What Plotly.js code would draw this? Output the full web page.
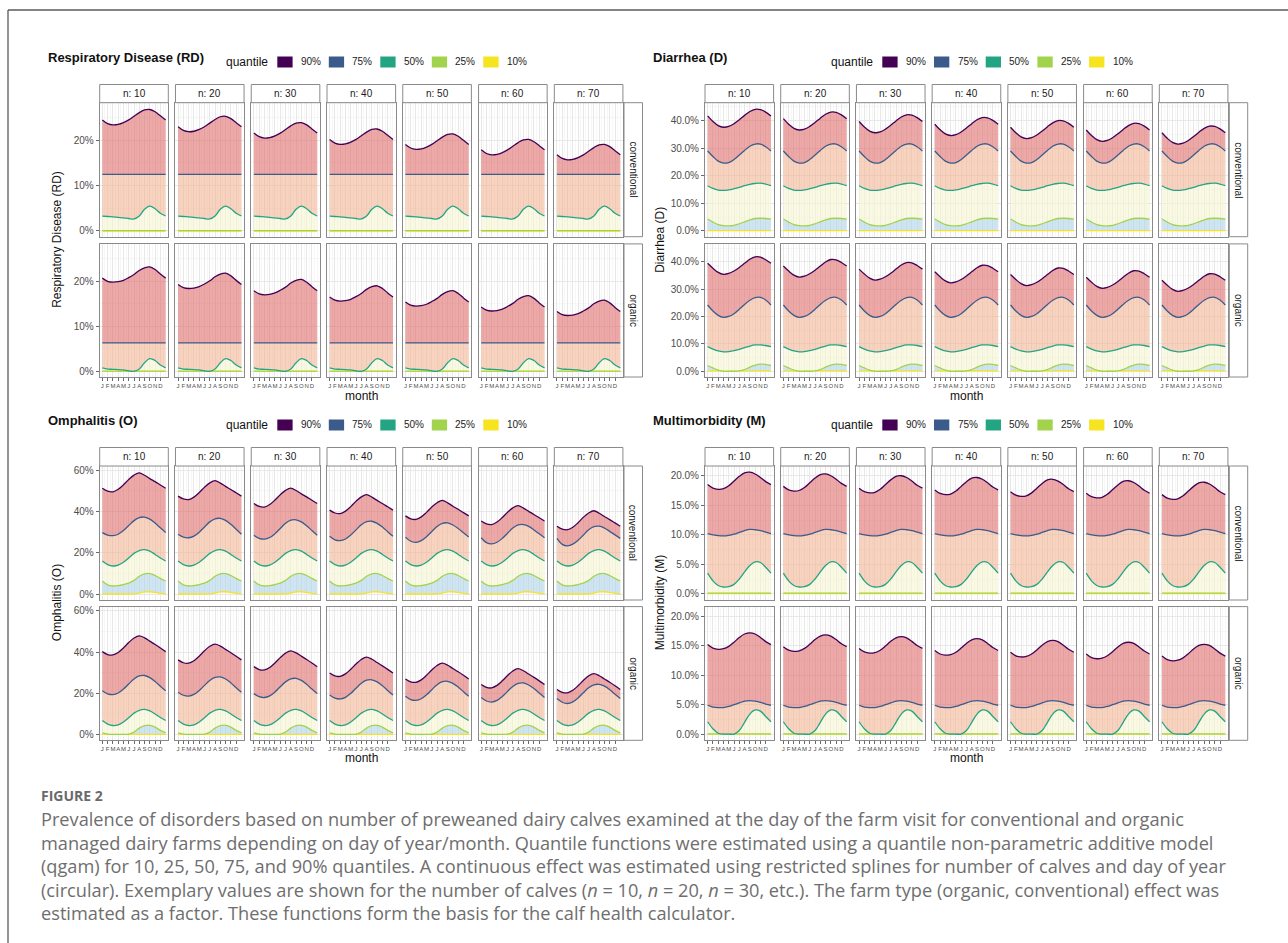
<!DOCTYPE html>
<html><head><meta charset="utf-8">
<script src="https://cdn.plot.ly/plotly-3.0.1.min.js"></script>
<style>html,body{margin:0;padding:0;background:#fff;}#chart{width:1288px;height:943px;}</style>
</head><body><div id="chart"></div>
<script>
// ================= DATA =================
// x positions: month index (0 = 1 Jan ... 12 = 31 Dec)
const monthX = [0,1,2,3,4,5,6,7,8,9,10,11,12];
const monthTickVals = [0,1,2,3,4,5,6,7,8,9,10,11];
const monthTickText = ['J','F','M','A','M','J','J','A','S','O','N','D'];
const nLabels = ['n: 10','n: 20','n: 30','n: 40','n: 50','n: 60','n: 70'];
const farmTypes = ['conventional','organic'];
const quantileNames = ['90%','75%','50%','25%','10%'];
const panelTitles = ['Respiratory Disease (RD)','Diarrhea (D)','Omphalitis (O)','Multimorbidity (M)'];
const yAxisTitles = ['Respiratory Disease (RD)','Diarrhea (D)','Omphalitis (O)','Multimorbidity (M)'];

// y ticks
const rd_yTicks = [0,10,20];          const rd_yTickText = ['0%','10%','20%'];
const d_yTicks  = [0,10,20,30,40];    const d_yTickText  = ['0.0%','10.0%','20.0%','30.0%','40.0%'];
const o_yTicks  = [0,20,40,60];       const o_yTickText  = ['0%','20%','40%','60%'];
const m_yTicks  = [0,5,10,15,20];     const m_yTickText  = ['0.0%','5.0%','10.0%','15.0%','20.0%'];

// ---- Respiratory disease (%), conventional ----
const rd_conv_q10 = [0,0,0,0,0,0,0,0,0,0,0,0,0];
const rd_conv_q25 = [0.08,0.08,0.08,0.08,0.08,0.08,0.08,0.08,0.08,0.08,0.08,0.08,0.08];
const rd_conv_q50 = [3.3,3.2,3.1,3.0,2.9,2.75,2.65,3.3,4.8,5.5,4.9,3.9,3.3];
const rd_conv_q75 = [12.5,12.5,12.5,12.5,12.5,12.5,12.5,12.5,12.5,12.5,12.5,12.5,12.5];
const rd_conv_q90 = [ // one row per n
  [24.5,23.7,23.4,23.5,23.9,24.5,25.3,26.1,26.7,26.8,26.3,25.4,24.5],
  [23.0,22.2,21.9,22.0,22.4,23.0,23.8,24.6,25.2,25.3,24.8,23.9,23.0],
  [21.6,20.8,20.5,20.6,21.0,21.6,22.4,23.2,23.8,23.9,23.4,22.5,21.6],
  [20.2,19.4,19.1,19.2,19.6,20.2,21.0,21.8,22.4,22.5,22.0,21.1,20.2],
  [19.1,18.3,18.0,18.1,18.5,19.1,19.9,20.7,21.3,21.4,20.9,20.0,19.1],
  [17.9,17.1,16.8,16.9,17.3,17.9,18.7,19.5,20.1,20.2,19.7,18.8,17.9],
  [16.8,16.0,15.7,15.8,16.2,16.8,17.6,18.4,19.0,19.1,18.6,17.7,16.8]];
// ---- Respiratory disease, organic ----
const rd_org_q10 = [0,0,0,0,0,0,0,0,0,0,0,0,0];
const rd_org_q25 = [0.05,0.05,0.05,0.05,0.05,0.05,0.05,0.05,0.05,0.05,0.05,0.05,0.05];
const rd_org_q50 = [0.75,0.5,0.45,0.4,0.3,0.1,0.0,0.5,1.9,2.8,2.4,1.4,0.75];
const rd_org_q75 = [6.3,6.3,6.3,6.3,6.3,6.3,6.3,6.3,6.3,6.3,6.3,6.3,6.3];
const rd_org_q90 = [
  [20.7,20.0,19.8,19.9,20.2,20.8,21.5,22.4,23.0,23.2,22.6,21.6,20.7],
  [19.3,18.6,18.4,18.5,18.8,19.4,20.1,21.0,21.6,21.8,21.2,20.2,19.3],
  [17.9,17.2,17.0,17.1,17.4,18.0,18.7,19.6,20.2,20.4,19.8,18.8,17.9],
  [16.5,15.8,15.6,15.7,16.0,16.6,17.3,18.2,18.8,19.0,18.4,17.4,16.5],
  [15.4,14.7,14.5,14.6,14.9,15.5,16.2,17.1,17.7,17.9,17.3,16.3,15.4],
  [14.3,13.6,13.4,13.5,13.8,14.4,15.1,16.0,16.6,16.8,16.2,15.2,14.3],
  [13.3,12.6,12.4,12.5,12.8,13.4,14.1,15.0,15.6,15.8,15.2,14.2,13.3]];

// ---- Diarrhea, conventional ----
const d_conv_q10 = [0.1,0.1,0.1,0.1,0.1,0.1,0.1,0.1,0.1,0.1,0.1,0.1,0.1];
const d_conv_q25 = [4.3,3.2,2.3,1.9,1.8,2.0,2.6,3.3,4.0,4.5,4.6,4.5,4.3];
const d_conv_q50 = [16.4,15.4,14.8,14.7,14.9,15.3,15.8,16.4,16.9,17.2,17.3,17.0,16.4];
const d_conv_q75 = [29.0,27.0,25.3,24.6,24.8,25.9,27.5,29.2,30.7,31.5,31.5,30.5,29.0];
const d_conv_q90 = [
  [41.7,39.7,38.2,37.6,37.9,38.9,40.3,41.9,43.3,44.1,44.0,43.1,41.7],
  [40.7,38.7,37.2,36.6,36.9,37.9,39.3,40.9,42.3,43.1,43.0,42.1,40.7],
  [39.7,37.7,36.2,35.6,35.9,36.9,38.3,39.9,41.3,42.1,42.0,41.1,39.7],
  [38.7,36.7,35.2,34.6,34.9,35.9,37.3,38.9,40.3,41.1,41.0,40.1,38.7],
  [37.6,35.6,34.1,33.5,33.8,34.8,36.2,37.8,39.2,40.0,39.9,39.0,37.6],
  [36.6,34.6,33.1,32.5,32.8,33.8,35.2,36.8,38.2,39.0,38.9,38.0,36.6],
  [35.6,33.6,32.1,31.5,31.8,32.8,34.2,35.8,37.2,38.0,37.9,37.0,35.6]];
// ---- Diarrhea, organic ----
const d_org_q10 = [0.1,0.1,0.1,0.1,0.1,0.1,0.1,0.1,0.1,0.1,0.1,0.1,0.1];
const d_org_q25 = [2.1,1.2,0.4,0.0,0.0,0.0,0.1,0.6,1.5,2.2,2.6,2.5,2.1];
const d_org_q50 = [9.0,8.1,7.4,7.1,7.2,7.5,8.0,8.6,9.2,9.6,9.6,9.4,9.0];
const d_org_q75 = [24.2,22.0,20.4,19.7,20.0,21.0,22.6,24.4,25.9,26.9,27.0,26.0,24.2];
const d_org_q90 = [
  [39.4,37.6,36.1,35.4,35.7,36.6,37.9,39.4,40.9,41.8,41.7,40.7,39.4],
  [38.4,36.6,35.1,34.4,34.7,35.6,36.9,38.4,39.9,40.8,40.7,39.7,38.4],
  [37.3,35.5,34.0,33.3,33.6,34.5,35.8,37.3,38.8,39.7,39.6,38.6,37.3],
  [36.3,34.5,33.0,32.3,32.6,33.5,34.8,36.3,37.8,38.7,38.6,37.6,36.3],
  [35.3,33.5,32.0,31.3,31.6,32.5,33.8,35.3,36.8,37.7,37.6,36.6,35.3],
  [34.3,32.5,31.0,30.3,30.6,31.5,32.8,34.3,35.8,36.7,36.6,35.6,34.3],
  [33.2,31.4,29.9,29.2,29.5,30.4,31.7,33.2,34.7,35.6,35.5,34.5,33.2]];

// ---- Omphalitis, conventional ----
const o_conv_q10 = [0,0,0,0,0,0,0.05,0.5,1.0,1.1,0.8,0.3,0];
const o_conv_q25 = [6.3,4.4,3.9,4.1,4.6,5.3,6.6,8.6,9.8,9.9,9.0,7.6,6.3];
const o_conv_q50 = [16.0,14.3,13.6,14.0,15.4,17.5,19.7,21.1,21.5,20.8,19.2,17.5,16.0];
const o_conv_q75 = [
  [29.8,28.6,28.3,29.0,30.8,33.2,35.6,37.1,37.3,36.3,34.4,32.1,29.8],
  [29.0,27.6,27.3,28.1,30.0,32.5,35.0,36.5,36.7,35.7,33.8,31.4,29.0],
  [28.5,27.0,26.6,27.4,29.3,31.8,34.3,35.8,36.0,35.0,33.1,30.8,28.5],
  [28.0,26.3,25.9,26.7,28.6,31.1,33.6,35.1,35.3,34.3,32.5,30.2,28.0],
  [27.6,25.6,25.1,25.9,27.8,30.3,32.8,34.3,34.5,33.5,31.8,29.7,27.6],
  [27.3,24.9,24.3,25.1,27.0,29.5,32.0,33.5,33.7,32.8,31.1,29.2,27.3],
  [27.0,24.1,23.4,24.2,26.1,28.6,31.2,32.7,32.9,32.0,30.4,28.7,27.0]];
const o_conv_q90 = [
  [51.3,49.9,49.6,50.8,53.0,55.6,57.7,58.8,57.6,56.0,54.5,52.9,51.3],
  [47.5,46.1,45.8,47.0,49.2,51.8,53.9,55.0,53.8,52.2,50.7,49.1,47.5],
  [43.9,42.5,42.2,43.4,45.6,48.2,50.3,51.4,50.2,48.6,47.1,45.5,43.9],
  [40.7,39.3,39.0,40.2,42.4,45.0,47.1,48.2,47.0,45.4,43.9,42.3,40.7],
  [37.9,36.5,36.2,37.4,39.6,42.2,44.3,45.4,44.2,42.6,41.1,39.5,37.9],
  [35.4,34.0,33.7,34.9,37.1,39.7,41.8,42.9,41.7,40.1,38.6,37.0,35.4],
  [32.9,31.5,31.2,32.4,34.6,37.2,39.3,40.4,39.2,37.6,36.1,34.5,32.9]];
// ---- Omphalitis, organic ----
const o_org_q10 = [0,0,0,0,0,0,0,0,0,0,0,0,0];
const o_org_q25 = [0.7,0.1,0,0,0,0.1,1.1,3.0,4.2,4.4,3.5,1.9,0.7];
const o_org_q50 = [6.7,5.0,4.3,4.6,6.0,8.1,10.3,11.7,12.1,11.4,9.9,8.2,6.7];
const o_org_q75 = [
  [21.2,19.7,19.3,20.1,22.0,24.5,26.9,28.4,28.6,27.6,25.7,23.4,21.2],
  [20.5,19.0,18.6,19.4,21.3,23.8,26.2,27.7,27.9,26.9,25.0,22.7,20.5],
  [19.8,18.3,17.9,18.7,20.6,23.1,25.5,27.0,27.2,26.2,24.3,22.0,19.8],
  [19.1,17.6,17.2,18.0,19.9,22.4,24.8,26.3,26.5,25.5,23.6,21.3,19.1],
  [18.5,16.9,16.5,17.3,19.2,21.7,24.1,25.6,25.8,24.8,23.0,20.7,18.5],
  [17.9,16.2,15.7,16.5,18.4,20.9,23.3,24.8,25.0,24.0,22.3,20.1,17.9],
  [17.4,15.6,15.0,15.8,17.7,20.2,22.6,24.1,24.3,23.4,21.7,19.5,17.4]];
const o_org_q90 = [
  [40.2,38.8,38.6,39.8,42.0,44.6,46.8,47.9,46.9,45.3,43.7,42.0,40.2],
  [36.2,34.8,34.6,35.8,38.0,40.6,42.8,43.9,42.9,41.3,39.7,38.0,36.2],
  [32.9,31.5,31.3,32.5,34.7,37.3,39.5,40.6,39.6,38.0,36.4,34.7,32.9],
  [29.8,28.4,28.2,29.4,31.6,34.2,36.4,37.5,36.5,34.9,33.3,31.6,29.8],
  [26.9,25.5,25.3,26.5,28.7,31.3,33.5,34.6,33.6,32.0,30.4,28.7,26.9],
  [24.2,22.8,22.6,23.8,26.0,28.6,30.8,31.9,30.9,29.3,27.7,26.0,24.2],
  [21.8,20.4,20.2,21.4,23.6,26.2,28.4,29.5,28.5,26.9,25.3,23.6,21.8]];

// ---- Multimorbidity, conventional ----
const m_conv_q10 = [0.05,0.05,0.05,0.05,0.05,0.05,0.05,0.05,0.05,0.05,0.05,0.05,0.05];
const m_conv_q25 = [0.1,0.1,0.1,0.1,0.1,0.1,0.1,0.1,0.1,0.1,0.1,0.1,0.1];
const m_conv_q50 = [3.5,2.2,1.4,1.15,1.2,1.6,2.5,3.7,4.8,5.4,5.3,4.5,3.5];
const m_conv_q75 = [10.2,10.0,9.85,9.8,9.9,10.1,10.4,10.7,10.9,10.85,10.7,10.45,10.2];
const m_conv_q90 = [
  [18.5,17.9,17.7,17.8,18.3,19.1,19.9,20.5,20.6,20.3,19.7,19.0,18.5],
  [18.2,17.6,17.4,17.5,18.0,18.8,19.6,20.2,20.3,20.0,19.4,18.7,18.2],
  [17.9,17.3,17.1,17.2,17.7,18.5,19.3,19.9,20.0,19.7,19.1,18.4,17.9],
  [17.6,17.0,16.8,16.9,17.4,18.2,19.0,19.6,19.7,19.4,18.8,18.1,17.6],
  [17.3,16.7,16.5,16.6,17.1,17.9,18.7,19.3,19.4,19.1,18.5,17.8,17.3],
  [17.05,16.45,16.25,16.35,16.85,17.65,18.45,19.05,19.15,18.85,18.25,17.55,17.05],
  [16.8,16.2,16.0,16.1,16.6,17.4,18.2,18.8,18.9,18.6,18.0,17.3,16.8]];
// ---- Multimorbidity, organic ----
const m_org_q10 = [0,0,0,0,0,0,0,0,0,0,0,0,0];
const m_org_q25 = [0.05,0.05,0.05,0.05,0.05,0.05,0.05,0.05,0.05,0.05,0.05,0.05,0.05];
const m_org_q50 = [2.1,0.9,0.15,0,0,0,0.6,2.0,3.4,4.1,3.9,3.0,2.1];
const m_org_q75 = [4.9,4.6,4.5,4.5,4.7,5.0,5.3,5.6,5.7,5.6,5.4,5.1,4.9];
const m_org_q90 = [
  [15.2,14.6,14.4,14.5,14.9,15.6,16.4,17.0,17.2,17.0,16.4,15.7,15.2],
  [14.85,14.25,14.05,14.15,14.55,15.25,16.05,16.65,16.85,16.65,16.05,15.35,14.85],
  [14.55,13.95,13.75,13.85,14.25,14.95,15.75,16.35,16.55,16.35,15.75,15.05,14.55],
  [14.2,13.6,13.4,13.5,13.9,14.6,15.4,16.0,16.2,16.0,15.4,14.7,14.2],
  [13.9,13.3,13.1,13.2,13.6,14.3,15.1,15.7,15.9,15.7,15.1,14.4,13.9],
  [13.6,13.0,12.8,12.9,13.3,14.0,14.8,15.4,15.6,15.4,14.8,14.1,13.6],
  [13.25,12.65,12.45,12.55,12.95,13.65,14.45,15.05,15.25,15.05,14.45,13.75,13.25]];

const captionLines = [
  'Prevalence of disorders based on number of preweaned dairy calves examined at the day of the farm visit for conventional and organic',
  'managed dairy farms depending on day of year/month. Quantile functions were estimated using a quantile non-parametric additive model',
  '(qgam) for 10, 25, 50, 75, and 90% quantiles. A continuous effect was estimated using restricted splines for number of calves and day of year',
  '(circular). Exemplary values are shown for the number of calves (<i>n</i> = 10, <i>n</i> = 20, <i>n</i> = 30, etc.). The farm type (organic, conventional) effect was',
  'estimated as a factor. These functions form the basis for the calf health calculator.'];

// ================= BUILD =================
const disorders = [
  {conv:[rd_conv_q10,rd_conv_q25,rd_conv_q50,rd_conv_q75,rd_conv_q90], org:[rd_org_q10,rd_org_q25,rd_org_q50,rd_org_q75,rd_org_q90], yt:rd_yTicks, ytt:rd_yTickText},
  {conv:[d_conv_q10,d_conv_q25,d_conv_q50,d_conv_q75,d_conv_q90], org:[d_org_q10,d_org_q25,d_org_q50,d_org_q75,d_org_q90], yt:d_yTicks, ytt:d_yTickText},
  {conv:[o_conv_q10,o_conv_q25,o_conv_q50,o_conv_q75,o_conv_q90], org:[o_org_q10,o_org_q25,o_org_q50,o_org_q75,o_org_q90], yt:o_yTicks, ytt:o_yTickText},
  {conv:[m_conv_q10,m_conv_q25,m_conv_q50,m_conv_q75,m_conv_q90], org:[m_org_q10,m_org_q25,m_org_q50,m_org_q75,m_org_q90], yt:m_yTicks, ytt:m_yTickText}
];

const W = 1288, H = 943;
const px = v => v / W, py = v => 1 - v / H;
const FONT = 'Liberation Sans, Arial, Helvetica, sans-serif';
// colours: order q10, q25, q50, q75, q90
const lineColors = ['#F5E41F','#A2D34C','#23A483','#3B5B8B','#440154'];
const fillColors = ['rgba(0,0,0,0)','rgba(170,208,232,0.55)','rgba(246,246,206,0.55)','rgba(243,176,140,0.55)','rgba(221,98,96,0.55)'];

const geo = [
  {x0:99.7, pitch:75.77, w:68.6, rows:[[102.7,236.7],[243.9,377]], stripTop:84.5, rstrip:[624,642.5], titleX:46, titleY:57, legY:62, qX:224, sqX:277.3, sqStep:51.5, yTitleX:57, monthX:361, monthY:396, yr:[-1.26,28.3]},
  {x0:705, pitch:75.72, w:68.6, rows:[[102.7,236.7],[243.9,377]], stripTop:84.5, rstrip:[1229.3,1247.7], titleX:650.7, titleY:57, legY:62, qX:828.7, sqX:882.3, sqStep:51.7, yTitleX:660, monthX:966, monthY:396, yr:[-2.1,46.5]},
  {x0:99.7, pitch:75.77, w:68.6, rows:[[466,600],[606.6,740.3]], stripTop:447.5, rstrip:[624,642.5], titleX:46, titleY:420, legY:425, qX:224, sqX:277.3, sqStep:51.5, yTitleX:57, monthX:361, monthY:758, yr:[-2.9,62.1]},
  {x0:705, pitch:75.72, w:68.6, rows:[[466,600],[606.6,740.3]], stripTop:447.5, rstrip:[1229.3,1247.7], titleX:650.7, titleY:420, legY:425, qX:828.7, sqX:882.3, sqStep:51.7, yTitleX:660, monthX:966, monthY:758, yr:[-1.05,21.65]}
];

const minorX = [-0.5,0.5,1.5,2.5,3.5,4.5,5.5,6.5,7.5,8.5,9.5,10.5,11.5,12,12.5];

const traces = [], shapes = [], annotations = [];
const layout = {
  width: W, height: H, margin:{l:0,r:0,t:0,b:0}, paper_bgcolor:'#fff', plot_bgcolor:'#fff',
  showlegend:false, font:{family:FONT}
};

disorders.forEach((d, p) => {
  const g = geo[p];
  const ymajor = d.yt;
  const ystep = ymajor[1] - ymajor[0];
  const yminor = ymajor.map(v => v + ystep/2).concat([ymajor[0] - ystep/2]);
  [d.conv, d.org].forEach((qs, r) => {
    const [rowTop, rowBot] = g.rows[r];
    nLabels.forEach((nl, c) => {
      const i = p*14 + r*7 + c + 1;
      const sfx = i > 1 ? String(i) : '';
      const xa = 'x' + sfx, ya = 'y' + sfx;
      const x0 = g.x0 + c*g.pitch, x1 = x0 + g.w;
      qs.forEach((arr, k) => {
        const ys = Array.isArray(arr[0]) ? arr[c] : arr;
        traces.push({
          type:'scatter', mode:'lines', x: monthX, y: ys, xaxis: xa, yaxis: ya,
          line:{color: lineColors[k], width:1.3, shape:'spline', smoothing:1},
          fill: k === 0 ? 'none' : 'tonexty', fillcolor: fillColors[k],
          hoverinfo:'skip', showlegend:false
        });
      });
      layout['xaxis' + sfx] = {
        domain:[px(x0), px(x1)], anchor: ya, range:[-0.5, 12.5], fixedrange:true,
        tickmode:'array', tickvals: monthTickVals, ticktext: monthTickText, tickangle:0,
        showticklabels: r === 1, ticks: r === 1 ? 'outside' : '', ticklen:2.5, tickwidth:0.8, tickcolor:'#444',
        tickfont:{size:6, color:'#4d4d4d', family:FONT},
        showgrid:true, gridcolor:'#E6E6E6', gridwidth:0.9,
        minor:{tickmode:'array', tickvals:minorX, showgrid:true, gridcolor:'#F1F1F1', gridwidth:0.6, ticks:''},
        showline:true, mirror:true, linecolor:'#8a8a8a', linewidth:1, zeroline:false
      };
      layout['yaxis' + sfx] = {
        domain:[py(rowBot), py(rowTop)], anchor: xa, range: g.yr, fixedrange:true,
        tickmode:'array', tickvals: ymajor, ticktext: d.ytt,
        showticklabels: c === 0, ticks: c === 0 ? 'outside' : '', ticklen:3, tickwidth:0.8, tickcolor:'#444',
        tickfont:{size:10, color:'#4d4d4d', family:FONT},
        showgrid:true, gridcolor:'#E6E6E6', gridwidth:0.9,
        minor:{tickmode:'array', tickvals:yminor, showgrid:true, gridcolor:'#F1F1F1', gridwidth:0.6, ticks:''},
        showline:true, mirror:true, linecolor:'#8a8a8a', linewidth:1, zeroline:false
      };
      if (r === 0) {
        shapes.push({type:'rect', xref:'paper', yref:'paper', x0:px(x0), x1:px(x1), y0:py(rowTop), y1:py(g.stripTop),
          line:{color:'#8a8a8a', width:1}, fillcolor:'#ffffff', layer:'above'});
        annotations.push({xref:'paper', yref:'paper', x:px((x0+x1)/2), y:py((g.stripTop+rowTop)/2), text:nl,
          showarrow:false, xanchor:'center', yanchor:'middle', font:{size:10, color:'#1a1a1a', family:FONT}});
      }
    });
    shapes.push({type:'rect', xref:'paper', yref:'paper', x0:px(g.rstrip[0]), x1:px(g.rstrip[1]), y0:py(rowBot), y1:py(rowTop),
      line:{color:'#8a8a8a', width:1}, fillcolor:'#ffffff', layer:'above'});
    annotations.push({xref:'paper', yref:'paper', x:px((g.rstrip[0]+g.rstrip[1])/2), y:py((rowTop+rowBot)/2), text:farmTypes[r],
      textangle:90, showarrow:false, xanchor:'center', yanchor:'middle', font:{size:10, color:'#1a1a1a', family:FONT}});
  });
  annotations.push({xref:'paper', yref:'paper', x:px(g.titleX), y:py(g.titleY), text:'<b>'+panelTitles[p]+'</b>',
    showarrow:false, xanchor:'left', yanchor:'middle', font:{size:13, color:'#111', family:FONT}});
  annotations.push({xref:'paper', yref:'paper', x:px(g.qX), y:py(g.legY), text:'quantile',
    showarrow:false, xanchor:'left', yanchor:'middle', font:{size:12, color:'#111', family:FONT}});
  quantileNames.forEach((qn, k) => {
    const sx = g.sqX + k*g.sqStep;
    shapes.push({type:'rect', xref:'paper', yref:'paper', x0:px(sx), x1:px(sx+15.3), y0:py(g.legY+5.5), y1:py(g.legY-5.5),
      line:{width:0}, fillcolor: lineColors[4-k]});
    annotations.push({xref:'paper', yref:'paper', x:px(sx+21.5), y:py(g.legY), text:qn,
      showarrow:false, xanchor:'left', yanchor:'middle', font:{size:10, color:'#222', family:FONT}});
  });
  const rows = g.rows;
  annotations.push({xref:'paper', yref:'paper', x:px(g.yTitleX), y:py((rows[0][0]+rows[1][1])/2), text:yAxisTitles[p],
    textangle:-90, showarrow:false, xanchor:'center', yanchor:'middle', font:{size:12, color:'#111', family:FONT}});
  annotations.push({xref:'paper', yref:'paper', x:px(g.monthX), y:py(g.monthY), text:'month',
    showarrow:false, xanchor:'center', yanchor:'middle', font:{size:12, color:'#111', family:FONT}});
});

// page frame
shapes.push({type:'line', xref:'paper', yref:'paper', x0:px(8), x1:px(8), y0:py(10), y1:0, line:{color:'#5a5a5a', width:1.3}});
shapes.push({type:'line', xref:'paper', yref:'paper', x0:px(8), x1:1, y0:py(10), y1:py(10), line:{color:'#5a5a5a', width:1.3}});

// caption
annotations.push({xref:'paper', yref:'paper', x:px(39), y:py(795), text:'<b>FIGURE 2</b>', showarrow:false,
  xanchor:'left', yanchor:'middle', font:{size:14, color:'#6a6a6a', family:'Open Sans, sans-serif'}});
captionLines.forEach((t, j) => {
  annotations.push({xref:'paper', yref:'paper', x:px(39), y:py(819 + j*23.5), text:t, showarrow:false,
    xanchor:'left', yanchor:'middle', font:{size:18.2, color:'#6e6e6e', family:'Open Sans, sans-serif'}});
});

layout.shapes = shapes;
layout.annotations = annotations;
Plotly.newPlot('chart', traces, layout, {staticPlot:true, displayModeBar:false});
</script>
</body></html>
